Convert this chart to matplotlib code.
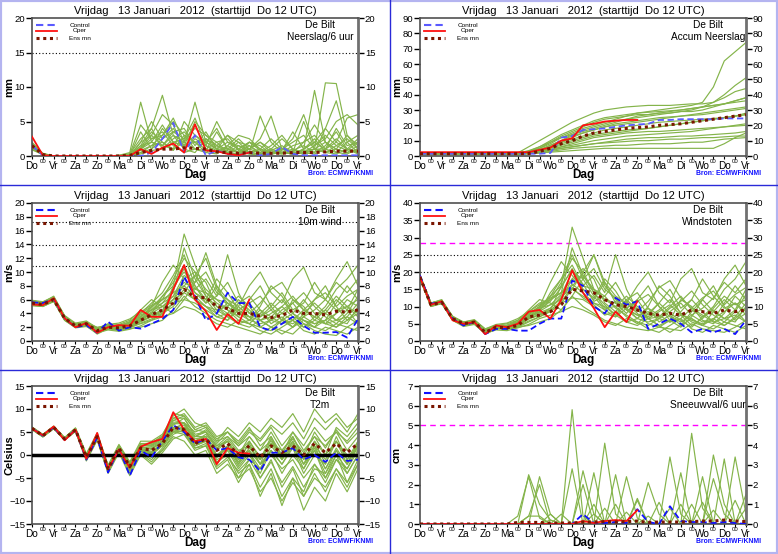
import matplotlib
matplotlib.use('Agg')
import matplotlib.pyplot as plt
from matplotlib.lines import Line2D
from matplotlib.patches import Rectangle

plt.rcParams['font.family'] = ['Liberation Sans', 'DejaVu Sans']

# tijd in stappen van 12 uur vanaf Do 12 UTC
days = ['Do', 'Vr', 'Za', 'Zo', 'Ma', 'Di', 'Wo', 'Do', 'Vr', 'Za', 'Zo', 'Ma', 'Di', 'Wo', 'Do', 'Vr']
title = 'Vrijdag   13 Januari   2012  (starttijd  Do 12 UTC)'

# ---- Neerslag/6 uur (mm)
prec_control = [1.5, 0.1, 0, 0, 0, 0, 0, 0, 0, 0, 0, 0.5, 2.5, 4.8, 0.5, 3.0, 0.1, 0.8, 0.3, 0.1, 0.5, 0.1, 0.3, 1.3, 0.3, 0.1, 0.1, 0.1, 0.1, 0.1, 0.1]
prec_oper = [2.8, 0.1, 0, 0, 0, 0, 0, 0, 0, 0, 1.0, 0.3, 1.2, 1.8, 0.5, 4.6, 0.8, 0.7, 0.3, 0.1, 0.5]
prec_ensmn = [1.5, 0.2, 0, 0, 0, 0, 0, 0, 0, 0.1, 0.5, 0.8, 1.0, 1.0, 1.2, 1.1, 1.0, 0.6, 0.5, 0.4, 0.5, 0.4, 0.4, 0.4, 0.5, 0.5, 0.5, 0.6, 0.7, 0.7, 0.7]
prec_members = [
    [1.5, 0.3, 0, 0, 0, 0, 0, 0, 0.1, 0.5, 7.8, 2.0, 1.5, 3.0, 1.0, 2.5, 1.5, 0.5, 0.8, 2.0, 0.5, 1.0, 0.3, 0.5, 1.5, 2.0, 3.0, 1.0, 2.5, 1.0, 0.5],
    [1.2, 0.2, 0, 0, 0, 0, 0, 0, 0, 0.3, 2.5, 4.0, 8.8, 3.0, 2.0, 1.0, 0.8, 3.5, 1.0, 0.5, 1.5, 0.3, 0.8, 0.5, 0.3, 1.0, 9.5, 2.0, 1.0, 0.5, 1.5],
    [1.8, 0.4, 0, 0, 0, 0, 0, 0, 0, 0.2, 1.0, 2.5, 3.0, 5.5, 2.0, 7.8, 2.0, 1.0, 0.5, 0.3, 1.0, 2.5, 5.8, 1.0, 0.5, 0.3, 1.0, 10.6, 10.5, 3.0, 1.0],
    [1.0, 0.2, 0, 0, 0, 0, 0, 0, 0, 0, 0.5, 1.5, 2.0, 1.0, 5.0, 3.0, 1.5, 5.0, 2.0, 1.0, 0.5, 0.3, 0.5, 1.0, 2.5, 6.0, 1.5, 2.5, 5.0, 6.0, 4.5],
    [2.0, 0.3, 0, 0, 0, 0, 0, 0, 0, 0.1, 3.5, 1.0, 4.0, 2.0, 1.5, 5.0, 3.0, 2.0, 2.5, 0.8, 0.3, 0.1, 0.3, 0.8, 3.5, 1.0, 2.0, 1.0, 0.5, 2.0, 3.0],
    [1.4, 0.2, 0, 0, 0, 0, 0, 0, 0, 0.2, 1.5, 4.0, 1.0, 2.5, 3.5, 2.0, 1.0, 0.5, 1.5, 3.0, 2.5, 1.0, 0.5, 0.3, 0.8, 1.5, 0.5, 4.0, 8.0, 2.0, 0.5],
    [1.6, 0.3, 0, 0, 0, 0, 0, 0, 0, 0, 2.0, 3.0, 6.0, 4.5, 1.0, 0.5, 2.5, 1.5, 0.5, 0.3, 0.5, 5.8, 2.0, 0.5, 0.3, 0.5, 0.3, 1.0, 2.0, 5.5, 6.0],
    [0.9, 0.2, 0, 0, 0, 0, 0, 0, 0, 0.1, 0.5, 1.0, 2.5, 3.5, 4.0, 1.5, 3.5, 1.0, 1.0, 2.5, 1.0, 0.5, 1.0, 2.5, 1.0, 0.5, 1.5, 3.0, 1.5, 0.8, 2.0],
    [1.3, 0.2, 0, 0, 0, 0, 0, 0, 0, 0, 1.0, 2.0, 1.5, 1.0, 2.0, 4.5, 1.0, 2.0, 0.5, 1.0, 2.0, 0.8, 0.3, 0.5, 0.3, 1.0, 2.5, 0.5, 1.0, 3.0, 1.5],
    [1.7, 0.3, 0, 0, 0, 0, 0, 0, 0.1, 0.3, 4.5, 2.5, 3.5, 1.5, 0.5, 1.0, 0.5, 0.3, 1.5, 0.5, 0.3, 1.0, 0.5, 0.3, 0.5, 5.0, 1.0, 0.5, 0.3, 1.0, 0.5],
    [1.1, 0.2, 0, 0, 0, 0, 0, 0, 0, 0, 0.3, 0.8, 1.0, 2.0, 1.5, 2.0, 2.5, 1.0, 2.0, 1.5, 0.5, 0.3, 0.8, 1.5, 0.5, 0.8, 1.0, 2.0, 0.5, 0.3, 1.0],
    [1.5, 0.2, 0, 0, 0, 0, 0, 0, 0, 0.2, 1.2, 3.5, 2.0, 0.8, 3.0, 2.0, 0.5, 1.5, 3.0, 1.0, 2.0, 1.5, 0.3, 0.5, 1.0, 0.3, 0.5, 1.5, 3.5, 1.0, 0.3],
    [1.4, 0.3, 0, 0, 0, 0, 0, 0, 0, 0.1, 2.0, 5.0, 2.5, 4.0, 1.5, 3.0, 2.0, 4.0, 1.0, 0.5, 1.0, 2.0, 1.0, 0.5, 0.3, 1.0, 2.0, 4.0, 2.0, 1.0, 2.5],
    [1.6, 0.2, 0, 0, 0, 0, 0, 0, 0, 0.2, 0.8, 1.5, 3.0, 5.0, 3.0, 1.0, 2.0, 1.0, 3.0, 2.0, 1.5, 0.5, 1.5, 3.0, 1.0, 0.5, 1.0, 0.5, 1.5, 2.5, 1.0],
    [1.2, 0.3, 0, 0, 0, 0, 0, 0, 0, 0, 1.5, 2.0, 4.5, 2.0, 2.5, 5.5, 1.5, 0.8, 0.5, 1.5, 1.0, 2.0, 0.5, 1.0, 2.0, 3.0, 1.0, 1.0, 4.0, 1.5, 2.0],
    [1.9, 0.3, 0, 0, 0, 0, 0, 0, 0, 0.1, 1.0, 3.0, 1.5, 3.5, 2.5, 4.0, 3.0, 1.5, 1.0, 0.5, 2.0, 1.0, 2.5, 1.0, 0.5, 2.0, 4.5, 2.0, 1.0, 0.5, 1.0],
]

# ---- Accum Neerslag (mm)
acc_control = [1.5, 1.5, 1.5, 1.5, 1.5, 1.5, 1.5, 1.5, 1.5, 1.5, 1.5, 1.5, 2.0, 12.0, 13.0, 17.0, 17.5, 18.0, 19.0, 20.0, 20.5, 21.0, 23.5, 23.5, 24.0, 24.0, 24.0, 24.0, 24.5, 24.5, 24.5]
acc_oper = [2.5, 2.5, 2.5, 2.5, 2.5, 2.5, 2.5, 2.5, 2.5, 2.5, 2.5, 4.0, 5.5, 10.0, 11.5, 20.0, 21.0, 22.5, 23.0, 23.5, 23.5]
acc_ensmn = [1.5, 1.5, 1.5, 1.5, 1.5, 1.5, 1.5, 1.5, 1.5, 1.5, 1.6, 3.0, 5.0, 8.0, 10.0, 13.0, 15.0, 16.0, 17.0, 18.0, 18.5, 19.0, 20.0, 20.5, 21.0, 22.0, 23.0, 24.0, 25.0, 26.0, 27.0]
acc_members = [
    [1.5, 1.5, 1.5, 1.5, 1.5, 1.5, 1.5, 1.5, 1.5, 1.6, 3, 5, 8, 12, 15, 18, 20, 22, 24, 26, 28, 29, 30, 31, 32, 33, 35, 45, 62, 68, 74],
    [1.8, 1.8, 1.8, 1.8, 1.8, 1.8, 1.8, 1.8, 1.8, 2.0, 6, 10, 14, 18, 22, 25, 28, 30, 31, 32, 32.5, 33, 33, 33, 33.5, 34, 34, 35, 40, 46, 51],
    [1.2, 1.2, 1.2, 1.2, 1.2, 1.2, 1.2, 1.2, 1.2, 1.3, 2, 4, 7, 10, 14, 17, 19, 21, 23, 24, 25, 26, 27, 28, 29, 30, 32, 35, 38, 42, 44],
    [2.0, 2.0, 2.0, 2.0, 2.0, 2.0, 2.0, 2.0, 2.0, 2.1, 3, 5, 9, 13, 16, 19, 22, 24, 25, 26, 27, 27, 28, 28, 29, 29, 30, 32, 34, 36, 38],
    [1.5, 1.5, 1.5, 1.5, 1.5, 1.5, 1.5, 1.5, 1.5, 1.5, 2, 3, 5, 8, 10, 12, 14, 15, 16, 17, 17.5, 18, 19, 20, 21, 22, 23, 24, 25, 26, 27],
    [1.0, 1.0, 1.0, 1.0, 1.0, 1.0, 1.0, 1.0, 1.0, 1.0, 1.5, 2.5, 4, 6, 8, 10, 12, 13, 14, 15, 15.5, 16, 16, 16.5, 17, 17.5, 18, 18.5, 19, 19.5, 20],
    [1.5, 1.5, 1.5, 1.5, 1.5, 1.5, 1.5, 1.5, 1.5, 1.6, 2, 3, 4, 5, 6, 7, 8, 9, 10, 11, 11.5, 12, 12, 12.5, 13, 13, 13.5, 14, 14.5, 15, 16],
    [2.0, 2.0, 2.0, 2.0, 2.0, 2.0, 2.0, 2.0, 2.0, 2.0, 2.5, 3.5, 6, 9, 12, 15, 17, 19, 20, 21, 22, 23, 24, 25, 26, 27, 28, 29, 30, 31, 32],
    [1.5, 1.5, 1.5, 1.5, 1.5, 1.5, 1.5, 1.5, 1.5, 1.5, 1.8, 2.5, 3.5, 5, 6, 7, 8, 8.5, 9, 9.5, 10, 10, 10.5, 11, 11, 11.5, 12, 12, 12.5, 13, 13],
    [1.2, 1.2, 1.2, 1.2, 1.2, 1.2, 1.2, 1.2, 1.2, 1.2, 1.5, 2, 3, 4, 5, 5.5, 6, 6.5, 7, 7, 7.5, 8, 8, 8, 8.5, 9, 9, 10, 11, 11.5, 12],
    [2.0, 2.0, 2.0, 2.0, 2.0, 2.0, 2.0, 2.0, 2.0, 2.0, 3, 6, 10, 14, 17, 20, 23, 25, 26, 27, 28, 28.5, 29, 29.5, 30, 31, 32, 33, 34, 36, 38],
    [1.3, 1.3, 1.3, 1.3, 1.3, 1.3, 1.3, 1.3, 1.3, 1.4, 1.6, 2, 2.5, 3, 3.5, 4, 4.5, 5, 5, 5, 5, 5, 5, 5, 5, 5, 5, 5, 8, 12, 15],
    [1.7, 1.7, 1.7, 1.7, 1.7, 1.7, 1.7, 1.7, 1.7, 1.7, 2.5, 4, 6, 9, 11, 13, 15, 17, 18, 19, 20, 21, 22, 22.5, 23, 23.5, 24, 24.5, 25, 26, 27],
    [1.4, 1.4, 1.4, 1.4, 1.4, 1.4, 1.4, 1.4, 1.4, 1.4, 2, 3, 5, 7, 9, 11, 13, 14, 15, 16, 17, 18, 19, 20, 21, 22, 23, 24, 25, 26, 28],
    [1.6, 1.6, 1.6, 1.6, 1.6, 1.6, 1.6, 1.6, 1.6, 1.6, 2.5, 4, 7, 10, 13, 15, 17, 19, 21, 22, 23, 24, 25, 25.5, 26, 26.5, 27, 28, 29, 30, 31],
    [1.3, 1.3, 1.3, 1.3, 1.3, 1.3, 1.3, 1.3, 1.3, 1.3, 1.8, 2.5, 4, 6, 7, 8.5, 10, 11, 12, 13, 13.5, 14, 14.5, 15, 15.5, 16, 17, 18, 19, 20, 21],
    [1.8, 1.8, 1.8, 1.8, 1.8, 1.8, 1.8, 1.8, 1.8, 1.8, 3.5, 6, 9, 12, 14, 16, 18, 20, 22, 24, 26, 27, 28, 29, 30, 31, 32, 33, 34, 35, 36],
]

# ---- 10m wind (m/s)
wind_control = [5.6, 5.5, 6.1, 3.3, 2.0, 2.3, 1.2, 2.8, 1.5, 2.0, 1.8, 2.5, 3.2, 4.5, 9.3, 6.5, 3.0, 4.0, 7.0, 5.5, 5.5, 2.0, 1.5, 2.5, 3.5, 2.2, 1.2, 1.2, 1.3, 0.5, 3.2]
wind_oper = [5.3, 5.2, 6.2, 3.3, 2.0, 2.6, 1.2, 2.0, 2.3, 2.2, 4.5, 3.5, 3.5, 7.5, 11.0, 6.0, 4.3, 1.6, 3.9, 2.5, 6.0]
wind_ensmn = [5.5, 5.3, 6.0, 3.3, 2.2, 2.5, 1.5, 2.0, 1.9, 2.2, 3.0, 3.8, 4.5, 5.5, 7.5, 6.3, 6.3, 5.0, 4.7, 4.0, 4.0, 3.6, 3.4, 3.7, 4.5, 4.0, 4.0, 3.8, 4.3, 4.2, 4.5]
wind_members = [
    [5.8, 5.6, 6.5, 3.6, 2.4, 2.8, 1.8, 2.5, 2.0, 2.8, 4.0, 5.5, 7.0, 9.5, 12.5, 8.0, 6.0, 4.0, 3.0, 5.0, 3.5, 2.0, 1.5, 3.0, 6.0, 5.0, 3.0, 2.5, 4.0, 6.0, 5.0],
    [5.2, 5.0, 5.8, 3.0, 2.0, 2.2, 1.0, 1.8, 1.5, 2.0, 2.5, 3.0, 4.0, 8.0, 15.5, 11.0, 7.0, 5.5, 4.5, 3.0, 2.5, 4.0, 5.5, 4.0, 3.0, 2.0, 3.5, 5.0, 7.5, 9.0, 11.0],
    [5.5, 5.4, 6.2, 3.4, 2.5, 2.6, 2.0, 2.2, 2.4, 3.0, 4.5, 6.0, 5.0, 4.0, 6.0, 8.5, 12.8, 8.0, 5.0, 3.5, 6.0, 8.0, 5.0, 3.0, 2.0, 3.5, 6.0, 8.0, 5.0, 3.0, 4.0],
    [5.6, 5.2, 6.0, 3.2, 2.1, 2.4, 1.4, 1.9, 1.8, 2.1, 3.0, 4.0, 6.5, 8.5, 11.0, 7.5, 9.0, 6.5, 12.5, 7.0, 4.0, 3.5, 4.5, 6.0, 4.0, 3.0, 2.5, 3.0, 5.5, 8.0, 6.0],
    [5.4, 5.3, 6.1, 3.3, 2.3, 2.5, 1.6, 2.1, 2.0, 2.5, 3.5, 5.0, 8.5, 11.0, 9.0, 7.0, 5.5, 8.0, 6.0, 5.0, 8.0, 10.0, 7.0, 5.5, 9.0, 10.7, 7.0, 6.0, 9.0, 11.5, 8.0],
    [5.7, 5.5, 6.3, 3.5, 2.2, 2.6, 1.7, 2.0, 1.6, 1.8, 2.0, 2.5, 3.0, 4.5, 6.5, 5.0, 4.0, 3.0, 2.5, 2.0, 1.5, 1.0, 2.0, 1.5, 1.0, 2.5, 1.5, 1.0, 0.8, 2.0, 3.0],
    [5.3, 5.1, 5.9, 3.1, 2.0, 2.3, 1.3, 1.7, 2.2, 2.6, 3.8, 4.5, 5.0, 6.0, 9.0, 10.0, 8.5, 5.0, 4.0, 6.0, 4.5, 3.0, 3.5, 5.0, 6.5, 4.5, 3.5, 4.5, 3.0, 2.5, 5.0],
    [5.9, 5.7, 6.4, 3.7, 2.6, 2.9, 1.9, 2.4, 2.6, 3.2, 4.2, 5.2, 6.0, 7.0, 13.5, 9.0, 6.5, 5.0, 3.5, 2.5, 3.0, 5.0, 8.0, 6.5, 4.0, 2.5, 2.0, 4.0, 6.0, 4.5, 7.5],
    [5.1, 5.0, 5.7, 3.0, 1.9, 2.1, 1.2, 1.6, 1.4, 1.7, 2.2, 3.0, 3.5, 4.0, 5.0, 4.5, 3.5, 2.5, 2.0, 3.0, 2.5, 1.5, 1.0, 2.0, 3.0, 1.5, 1.0, 2.0, 1.5, 1.0, 2.0],
    [5.5, 5.5, 6.0, 3.3, 2.2, 2.5, 1.5, 2.0, 1.9, 2.3, 3.2, 4.2, 5.5, 7.5, 10.5, 7.0, 6.0, 9.0, 7.0, 4.5, 3.0, 2.5, 3.0, 4.5, 5.5, 7.0, 5.0, 3.5, 2.5, 4.0, 6.5],
    [5.6, 5.4, 6.1, 3.4, 2.3, 2.5, 1.6, 2.2, 2.1, 2.4, 3.3, 3.8, 4.5, 6.0, 8.0, 6.5, 5.0, 4.0, 5.5, 4.0, 3.0, 4.5, 2.5, 3.5, 2.0, 4.0, 5.5, 4.0, 3.0, 3.5, 2.5],
    [5.4, 5.2, 5.9, 3.2, 2.1, 2.4, 1.4, 1.9, 1.7, 2.0, 2.8, 3.5, 4.0, 5.0, 7.0, 9.5, 12.0, 7.5, 5.5, 4.5, 5.5, 3.5, 5.0, 7.0, 4.5, 5.5, 8.5, 6.0, 4.5, 5.0, 4.0],
    [5.8, 5.6, 6.2, 3.5, 2.4, 2.7, 1.8, 2.3, 2.3, 2.7, 3.6, 4.5, 5.5, 6.5, 8.5, 7.5, 7.0, 6.0, 4.5, 3.5, 2.5, 2.0, 3.0, 2.5, 3.5, 3.0, 2.0, 3.0, 4.0, 5.0, 3.5],
    [5.3, 5.1, 5.8, 3.1, 2.0, 2.3, 1.3, 1.8, 1.6, 2.1, 3.0, 3.5, 4.5, 6.0, 7.0, 6.0, 5.0, 4.5, 3.5, 5.5, 6.5, 4.5, 3.5, 2.5, 3.0, 4.5, 3.5, 2.5, 2.0, 3.0, 4.5],
    [5.5, 5.3, 6.0, 3.3, 2.2, 2.5, 1.5, 2.1, 2.2, 2.8, 4.0, 5.0, 6.0, 7.0, 8.0, 9.5, 7.5, 6.0, 5.5, 4.5, 3.5, 3.0, 4.0, 5.0, 3.5, 2.0, 3.0, 4.5, 6.5, 5.0, 6.0],
    [5.7, 5.4, 6.2, 3.4, 2.3, 2.6, 1.6, 2.0, 2.0, 2.3, 3.2, 4.5, 6.0, 9.0, 12.0, 10.0, 6.5, 4.5, 5.0, 6.5, 5.0, 3.0, 2.0, 3.0, 4.0, 6.0, 4.0, 2.5, 3.0, 4.5, 2.5],
    [5.4, 5.2, 5.9, 3.2, 2.1, 2.4, 1.4, 1.9, 1.7, 1.9, 2.6, 3.2, 3.8, 5.5, 6.0, 5.5, 4.5, 3.5, 3.0, 4.5, 5.5, 6.5, 4.5, 3.0, 2.5, 3.5, 4.5, 6.0, 8.5, 7.0, 9.0],
    [5.6, 5.5, 6.1, 3.4, 2.2, 2.5, 1.5, 2.0, 1.8, 2.2, 3.0, 4.0, 5.0, 6.5, 9.5, 8.5, 10.0, 7.0, 6.0, 4.0, 3.5, 4.0, 3.0, 4.0, 5.5, 3.5, 2.5, 3.0, 2.0, 3.5, 5.5],
    [5.3, 5.2, 5.8, 3.2, 2.1, 2.3, 1.4, 1.8, 1.9, 2.4, 3.4, 4.8, 6.5, 8.0, 10.0, 8.0, 5.5, 6.5, 8.5, 5.5, 4.0, 5.5, 7.5, 8.5, 6.0, 4.5, 6.0, 7.0, 5.0, 6.5, 7.5],
    [5.8, 5.6, 6.3, 3.6, 2.4, 2.7, 1.7, 2.2, 2.0, 2.2, 2.9, 3.6, 4.2, 5.5, 7.5, 6.0, 5.0, 3.5, 4.0, 2.5, 2.0, 3.0, 2.0, 1.0, 2.0, 3.0, 2.0, 1.5, 2.5, 2.0, 1.5],
]

# ---- Windstoten (m/s)
gust_control = [19, 10.8, 11.3, 6.5, 4.5, 5.5, 2.0, 3.5, 3.5, 3.0, 3.0, 5.0, 6.5, 6.5, 17.5, 16, 10, 8, 12.5, 10.5, 11.5, 3.5, 5.0, 6.5, 5.0, 2.5, 3.5, 2.5, 3.5, 2.0, 6.0]
gust_oper = [18.5, 10.5, 11.5, 6.0, 5.0, 5.5, 2.0, 4.5, 4.0, 5.0, 8.5, 9.0, 6.5, 12, 20.5, 14, 9.5, 4, 8.5, 5.5, 11.5]
gust_ensmn = [18.5, 10.5, 11.2, 6.5, 5.0, 5.5, 2.5, 4.0, 3.8, 4.5, 7.0, 7.5, 8.5, 10.5, 15.0, 14.5, 14.0, 12.0, 10.5, 10.0, 9.0, 8.0, 7.5, 8.0, 7.5, 9.0, 8.5, 8.0, 9.0, 8.5, 9.0]
gust_members = [
    [19, 11, 12, 7, 5.5, 6, 3, 4.5, 4, 5.5, 8, 10, 13, 18, 25, 18, 13, 9, 7, 11, 8, 5, 4, 6, 12, 10, 6, 5, 8, 13, 10],
    [18, 10, 11, 6, 4.5, 5, 2, 3.5, 3.5, 4, 5.5, 7, 9, 16, 33, 24, 15, 12, 10, 7, 5, 8, 11, 8, 6, 4, 7, 10, 15, 18, 23],
    [19, 11, 11.5, 7, 5, 6, 3.5, 4.5, 5, 6, 9, 12, 11, 9, 13, 18, 25, 17, 11, 8, 12, 16, 10, 6, 4, 7, 12, 16, 10, 6, 8],
    [18.5, 10.5, 11, 6.5, 4.8, 5.5, 2.8, 4, 3.8, 4.5, 6.5, 8.5, 14, 18, 22, 16, 19, 14, 25, 15, 9, 7, 9, 12, 8, 6, 5, 6, 11, 16, 12],
    [18.5, 10.5, 11.2, 6.5, 5, 5.5, 3, 4.2, 4.2, 5, 7.5, 10, 17, 23, 19, 15, 12, 17, 13, 11, 16, 20, 14, 11, 18, 21, 14, 12, 18, 22, 16],
    [19, 11, 11.8, 7, 5.2, 5.8, 3.2, 4.3, 3.5, 4, 4.5, 5.5, 6.5, 9, 13, 10, 8, 6, 5, 4, 3.5, 3, 4, 3.5, 3, 5, 3.5, 3, 2.5, 4, 6],
    [18, 10.2, 11, 6.2, 4.6, 5.2, 2.4, 3.6, 4.5, 5.5, 8, 9.5, 10.5, 12, 18, 21, 18, 11, 8.5, 12, 9, 6.5, 7, 10, 13, 9, 7, 9, 6.5, 5.5, 10],
    [19, 11, 11.8, 7.2, 5.5, 6.2, 3.5, 4.8, 5.2, 6.5, 8.5, 11, 12, 14, 27, 19, 14, 10.5, 7.5, 5.5, 6.5, 10, 16, 13, 8, 5.5, 4.5, 8.5, 12, 9, 15],
    [18, 10, 10.8, 6, 4.2, 4.8, 2.2, 3.2, 3, 3.8, 4.8, 6.5, 7.5, 8.5, 10, 9, 7.5, 5.5, 4.5, 6.5, 5.5, 3.5, 2.5, 4.5, 6.5, 3.5, 2.5, 4.5, 3.5, 2.5, 4.5],
    [18.5, 10.5, 11.3, 6.6, 5, 5.5, 2.8, 4, 3.9, 4.8, 7, 9, 11.5, 15.5, 21, 15, 12.5, 18, 14.5, 9.5, 6.5, 5.5, 6.5, 9.5, 11.5, 14.5, 10.5, 7.5, 5.5, 8.5, 13.5],
    [18.8, 10.8, 11.5, 6.8, 5.2, 5.6, 3, 4.4, 4.3, 5, 7.2, 8.2, 9.5, 12.5, 16.5, 14, 11, 9, 11.5, 9, 6.5, 9.5, 5.5, 7.5, 4.5, 8.5, 12, 8.5, 6.5, 7.5, 5.5],
    [18.2, 10.3, 11, 6.4, 4.8, 5.3, 2.6, 3.8, 3.6, 4.4, 6.4, 7.6, 8.5, 11, 15, 20, 25, 16, 12, 9.5, 12, 7.5, 11, 15, 9.5, 12, 18, 13, 9.5, 11, 8.5],
    [19, 11, 11.6, 7, 5.3, 5.8, 3.2, 4.5, 4.6, 5.6, 7.8, 9.8, 12, 14, 18, 16, 15, 13, 9.5, 7.5, 5.5, 4.5, 6.5, 5.5, 7.5, 6.5, 4.5, 6.5, 8.5, 11, 7.5],
    [18.3, 10.3, 10.9, 6.3, 4.5, 5, 2.4, 3.7, 3.4, 4.2, 6.5, 7.5, 9.5, 13, 15, 13, 11, 10, 7.5, 12, 14, 9.5, 7.5, 5.5, 6.5, 9.5, 7.5, 5.5, 4.5, 6.5, 9.5],
    [18.5, 10.5, 11.2, 6.5, 5, 5.5, 2.8, 4.2, 4.5, 6, 8.5, 10.5, 12.5, 14, 16, 19, 15, 12, 11, 9.5, 7.5, 6.5, 8.5, 10.5, 7.5, 4.5, 6.5, 9.5, 13, 10.5, 12],
    [19, 10.8, 11.6, 6.8, 5.2, 5.7, 3, 4.2, 4, 4.6, 6.8, 9, 12, 17, 24, 20, 14, 9.5, 10, 13, 10, 6.5, 4.5, 6, 8.5, 12, 8.5, 5.5, 6.5, 9, 5.5],
    [18.3, 10.4, 11, 6.4, 4.7, 5.3, 2.6, 3.9, 3.7, 4.2, 5.8, 7, 8.5, 11, 12.5, 12, 10, 8, 7, 9.5, 11.5, 13.5, 10, 7, 5.5, 7.5, 9.5, 12.5, 17, 14, 18],
    [18.7, 10.7, 11.4, 6.7, 5.1, 5.6, 2.9, 4.1, 3.9, 4.7, 6.8, 8.6, 10.5, 13.5, 20, 18, 21, 15, 12.5, 9, 7.5, 8.5, 6.5, 8.5, 11, 7.5, 5.5, 6.5, 4.5, 7, 11],
    [18.2, 10.2, 10.9, 6.2, 4.6, 5.2, 2.5, 3.7, 3.8, 5, 7.2, 9.5, 13, 16, 20.5, 16.5, 11.5, 13, 17, 11.5, 8.5, 11.5, 15.5, 17.5, 12.5, 9.5, 12.5, 14.5, 10.5, 13.5, 15.5],
    [19, 11, 11.7, 7, 5.4, 5.9, 3.2, 4.4, 4.2, 4.8, 6.4, 7.8, 9, 11.5, 15.5, 12.5, 10.5, 7.5, 8.5, 5.5, 4.5, 6.5, 4.5, 2.5, 4.5, 6.5, 4.5, 3.5, 5.5, 4.5, 3.5],
]

# ---- T2m (Celsius)
t2m_control = [5.8, 4.2, 6.0, 3.3, 5.5, -1.0, 3.8, -3.8, 1.5, -4.5, 1.0, -0.5, 3.0, 6.5, 5.0, 2.5, 3.5, 1.0, 1.5, -0.5, -1.0, -3.5, 0.5, 0.5, 1.5, -1.0, 0.0, -1.5, 0.5, -1.3, -1.0]
t2m_oper = [5.7, 4.3, 6.2, 3.2, 5.5, -0.8, 4.8, -3.0, 1.2, -2.8, 1.8, 2.8, 3.5, 9.3, 5.5, 3.0, 3.5, -2.0, 1.5, 0.5, 0.3]
t2m_ensmn = [5.8, 4.2, 6.0, 3.5, 5.5, -0.5, 4.0, -3.0, 1.5, -2.5, 1.5, 1.0, 2.5, 6.0, 5.5, 2.5, 3.5, 1.0, 2.5, 0.0, 2.0, -0.5, 2.0, 0.5, 2.0, 0.0, 2.5, 0.5, 2.5, 0.5, 2.5]
t2m_members = [
    [6.0, 4.4, 6.2, 3.7, 5.8, 0, 4.5, -2.5, 2, -2, 2.5, 2.5, 4, 8, 9, 6, 7, 4, 5, 2, 4, 1, 3, 0, 3, -1, 2, -3, 1, -4, 0],
    [5.6, 4.0, 5.8, 3.3, 5.2, -1, 3.5, -3.5, 1, -3.5, 0.5, -1, 1.5, 5, 6, 4, 5, 2, 3, -2, 1, -5, -1, -7, -3, -9, -4, -8, -3, -7, -2],
    [5.9, 4.3, 6.1, 3.6, 5.6, -0.3, 4.2, -2.8, 1.8, -2, 2, 2, 3.5, 7, 7, 5, 6, 3, 6, 4, 7, 5, 8, 6, 9, 5, 10, 7, 9, 6, 8],
    [5.7, 4.1, 5.9, 3.4, 5.4, -0.8, 3.8, -3.2, 1.3, -3, 1, 0, 2, 5.5, 5, 2, 3, -1, 0, -4, -2, -7, -3, -9, -5, -12, -7, -10, -4, -8, -3],
    [5.8, 4.2, 6.0, 3.5, 5.5, -0.5, 4.0, -3.0, 1.5, -2.5, 1.5, 1.5, 3, 6.5, 8, 4, 4, 0, 2, -2, 3, -1, 4, 0, 5, 2, 6, 3, 5, 1, 4],
    [6.1, 4.5, 6.3, 3.8, 5.9, 0.3, 4.8, -2.2, 2.3, -1.5, 3, 3, 4.5, 8.5, 10, 7, 6, 3, 4, 1, 2, -2, 1, -4, 0, -3, 2, -1, 3, -2, 2],
    [5.5, 3.9, 5.7, 3.2, 5.1, -1.3, 3.2, -4, 0.5, -4.5, 0, -2, 0.5, 3.5, 4.5, 1, 2, -3, -1, -6, -2, -9, -4, -11, -5, -8, -2, -5, 0, -3, 1],
    [5.9, 4.3, 6.0, 3.6, 5.6, -0.2, 4.3, -2.7, 1.7, -2.2, 1.8, 1.2, 2.8, 6, 6.5, 3, 4.5, 1.5, 3.5, 0.5, 3, -0.5, 2.5, 1, 3.5, 0.5, 4, 2, 5, 3, 6],
    [5.7, 4.1, 5.9, 3.4, 5.4, -0.7, 3.7, -3.3, 1.2, -2.8, 1.2, 0.5, 2, 5, 4.5, 1.5, 2, -2, 1, -3, 0, -4, 1, -2, 2, -3, 1, -4, 0, -6, -1],
    [5.8, 4.2, 6.1, 3.5, 5.5, -0.4, 4.1, -2.9, 1.6, -2.4, 1.6, 1.8, 3.2, 7.5, 8.5, 5.5, 5, 2, 4, 2, 5, 3, 6, 2, 5, 1, 4, 0, 3, -1, 2],
    [5.6, 4.0, 5.8, 3.3, 5.3, -0.9, 3.6, -3.4, 1.1, -3.2, 0.8, -0.5, 1, 4, 3, 0, 1, -4, -2, -5, -1, -3, 2, -1, 3, -2, 1, -5, -1, -4, 0],
    [6.0, 4.4, 6.2, 3.7, 5.7, -0.1, 4.4, -2.6, 1.9, -1.8, 2.2, 2.2, 3.8, 7.5, 7, 4, 5.5, 2.5, 5, 3, 6, 2, 4, -1, 2, -2, 3, 0, 6, 4, 7],
    [5.8, 4.2, 6.0, 3.5, 5.5, -0.6, 3.9, -3.1, 1.4, -2.6, 1.4, 0.8, 2.4, 6, 5.5, 2.5, 3, 0, 1.5, -1, 1, -2, 0, -3, -1, -5, -2, -6, -1, -3, 2],
    [5.9, 4.3, 6.1, 3.6, 5.6, -0.4, 4.2, -2.9, 1.6, -2.3, 1.7, 1.4, 2.9, 6.8, 6.8, 3.5, 4, 1, 3, 0, 4, 1, 5, 1, 4, -1, 3, -2, 4, -1, 3],
    [5.7, 4.1, 5.9, 3.4, 5.4, -0.6, 3.8, -3.3, 1.2, -3.5, 0.8, 0.5, 2.5, 5.5, 7, 3, 4, -0.5, 1.5, -2.5, 0.5, -3, 1, -2, 1.5, -4, 0, -2, 3, 0, 1],
    [5.9, 4.3, 6.1, 3.6, 5.7, -0.2, 4.4, -2.6, 1.8, -2, 2, 2.2, 3.8, 8, 8, 4.5, 5, 1.5, 3, -1, 2.5, -2, 3.5, -1, 4, -0.5, 5, 1.5, 5.5, 2.5, 5],
    [5.6, 4.0, 5.8, 3.3, 5.3, -1.1, 3.4, -3.7, 0.8, -4, 0.3, -1.5, 1, 4.5, 5.5, 2, 3, -1.5, 0, -5, -3, -8, -5, -10, -6, -9, -5, -7, -3, -6, -2],
    [6.0, 4.4, 6.2, 3.7, 5.8, 0.1, 4.6, -2.4, 2.1, -1.7, 2.4, 2.6, 4.2, 9, 8.5, 5.5, 6.5, 3.5, 5, 2.5, 5.5, 3.5, 6.5, 4.5, 7, 3.5, 8, 5.5, 8, 5, 9],
    [5.8, 4.2, 6.0, 3.5, 5.5, -0.5, 4.0, -3.0, 1.5, -2.7, 1.3, 0.2, 2.2, 5.8, 6, 2.5, 3, -0.5, 2, -1.5, 1.5, -1, 2.5, -0.5, 2.5, -2, 1.5, -3, 1.5, -2, 2.5],
    [5.7, 4.1, 5.9, 3.4, 5.4, -0.7, 3.8, -3.2, 1.3, -3, 1.1, 0.6, 2.1, 5.2, 5, 1.5, 2.5, -2.5, -0.5, -3.5, -1, -5, -1.5, -6, -2.5, -7, -3, -4, 1, -2, 3],
]

# ---- Sneeuwval/6 uur (cm)
snow_control = [0, 0, 0, 0, 0, 0, 0, 0, 0, 0, 0, 0, 0, 0, 0, 0.5, 0.05, 0.05, 0.1, 0.05, 0.75, 0.1, 0.0, 0.9, 0.15, 0.1, 0.1, 0.05, 0.1, 0.05, 0.0]
snow_oper = [0, 0, 0, 0, 0, 0, 0, 0, 0, 0, 0, 0, 0, 0, 0, 0.15, 0.05, 0.15, 0.2, 0.15, 0.7]
snow_ensmn = [0, 0, 0, 0, 0, 0, 0, 0, 0, 0.08, 0.08, 0.08, 0.03, 0.05, 0.05, 0.1, 0.1, 0.12, 0.1, 0.12, 0.15, 0.08, 0.1, 0.1, 0.1, 0.12, 0.15, 0.15, 0.2, 0.15, 0.12]
snow_members = [
    [0, 0, 0, 0, 0, 0, 0, 0, 0, 0.4, 2.4, 0.3, 0, 0, 0, 0, 0, 0, 0, 0, 0, 0, 0, 3.4, 0.5, 0, 0, 0, 0, 0, 0],
    [0, 0, 0, 0, 0, 0, 0, 0, 0, 0, 2.5, 1.0, 0.2, 0, 0, 0, 0, 4.1, 0.5, 0, 0, 0, 0, 0, 0, 4.6, 0.8, 0, 0, 0, 0],
    [0, 0, 0, 0, 0, 0, 0, 0, 0, 0, 0, 2.4, 0.5, 0, 5.8, 0.4, 0, 0, 0, 0, 0, 0, 0, 0, 0, 0, 0, 3.5, 1.0, 0, 0],
    [0, 0, 0, 0, 0, 0, 0, 0, 0, 0, 0.4, 2.0, 0, 0.5, 0, 0, 2.6, 0, 0, 2.4, 0.3, 0, 0, 0, 0, 0, 0, 0, 3.3, 0, 0],
    [0, 0, 0, 0, 0, 0, 0, 0, 0, 0, 0, 0, 0, 0, 0, 2.7, 0.5, 0, 0, 0, 0, 2.1, 0.5, 0, 0, 0, 0, 0, 0, 3.4, 0.5],
    [0, 0, 0, 0, 0, 0, 0, 0, 0, 0, 0, 0, 0, 0, 0, 2.0, 0, 0, 2.5, 0, 1.3, 0, 0, 0, 2.6, 0, 2.4, 0, 0, 0, 1.5],
    [0, 0, 0, 0, 0, 0, 0, 0, 0, 0, 0, 0, 0.5, 0, 0, 0, 1.0, 0, 1.0, 0, 0, 0, 1.1, 0, 0, 1.0, 0, 2.3, 0.5, 0, 0],
    [0, 0, 0, 0, 0, 0, 0, 0, 0, 0, 0.4, 0.4, 0, 0, 2.8, 0, 0, 0.8, 0, 0, 1.2, 0, 0, 0.8, 0, 0, 1.1, 0, 0, 1.2, 0],
    [0, 0, 0, 0, 0, 0, 0, 0, 0, 0, 0, 0, 0.2, 0, 0, 0, 0.5, 0, 0, 0.6, 0, 0.4, 0, 0, 1.0, 0, 0, 0.7, 0, 0, 0.8],
]

T = [i * 0.5 for i in range(31)]

fig = plt.figure(figsize=(7.78, 5.54), dpi=100)
W, H = 778.0, 554.0

CTRL_DASH = (0, (3.5, 2))
ENS_DOT = (0, (1, 1.2))


def panel(px, py, members, control, oper, ensmn, ymin, ymax, ystep, ylabel, name,
          dotted=(), magenta=None, zero_line=False, light_ctrl=False):
    ax = fig.add_axes([px / W, 1 - (py + 138) / H, 326 / W, 138 / H])
    for m in members:
        ax.plot(T[:len(m)], m, color='#84b44a', lw=0.85, zorder=2)
    for y in dotted:
        ax.axhline(y, color='black', ls=(0, (1, 2)), lw=0.8, zorder=1)
    if magenta is not None:
        ax.axhline(magenta, color='#ff00ff', ls=(0, (4, 3)), lw=1.0, zorder=1)
    if zero_line:
        ax.axhline(0, color='black', lw=2.5, zorder=3)
    cc = '#5a5aff' if light_ctrl else '#1010ff'
    ax.plot(T[:len(control)], control, color=cc, ls=CTRL_DASH, lw=1.3, zorder=4)
    ax.plot(T[:len(oper)], oper, color='#ff1010', lw=1.3, zorder=5)
    ax.plot(T[:len(ensmn)], ensmn, color='#7a1500', ls=ENS_DOT, lw=2.2, zorder=6)

    # legenda linksboven
    rows = [(0.949, 'Control', cc, CTRL_DASH, 1.5),
            (0.906, 'Oper', '#ff1010', '-', 1.3),
            (0.855, 'Ens mn', '#7a1500', ENS_DOT, 2.2)]
    for yy, lab, col, ls, lw in rows:
        ax.plot([0.012, 0.078], [yy, yy], transform=ax.transAxes, color=col, ls=ls,
                lw=lw, zorder=8)
        ax.text(0.147, yy, lab, transform=ax.transAxes, ha='center', va='center',
                fontsize=4.6, zorder=8)

    ax.set_xlim(0, 15)
    ax.set_ylim(ymin, ymax)
    ax.set_yticks(list(range(ymin, ymax + 1, ystep)))
    ax.set_xticks(range(16))
    ax.set_xticklabels(days, fontsize=7.2)
    ax.set_xticks([k + 0.5 for k in range(15)], minor=True)
    ax.set_xticklabels(['00'] * 15, minor=True, fontsize=4.3)
    ax.tick_params(axis='x', which='major', length=2.5, pad=1.0, width=0.8)
    ax.tick_params(axis='x', which='minor', length=2.5, pad=0, width=0.8)
    ax.tick_params(axis='y', length=4, width=1, labelsize=6.8, pad=1,
                   right=True, labelright=True)
    for s in ['left', 'top', 'bottom']:
        ax.spines[s].set_color('#505050')
        ax.spines[s].set_linewidth(1.2)
    ax.spines['right'].set_color('#707070')
    ax.spines['right'].set_linewidth(2)

    ax.set_title(title, fontsize=8, pad=3)
    ax.set_ylabel(ylabel, fontsize=8, fontweight='bold')
    ax.yaxis.set_label_coords(-0.055, 0.5)
    ax.text(0.5, -0.096, 'Dag', transform=ax.transAxes, ha='center', va='top',
            fontsize=8.5, fontweight='bold')
    ax.text(1.045, -0.13, 'Bron: ECMWF/KNMI', transform=ax.transAxes, ha='right',
            va='center', fontsize=4.9, fontweight='bold', color='#1010ff')
    ax.text(0.883, 0.985, 'De Bilt\n' + name, transform=ax.transAxes, ha='center',
            va='top', fontsize=7.3, linespacing=1.25, zorder=7)
    return ax


panel(32, 18, prec_members, prec_control, prec_oper, prec_ensmn, 0, 20, 5, 'mm',
      'Neerslag/6 uur', dotted=[15], light_ctrl=True)
panel(420, 18, acc_members, acc_control, acc_oper, acc_ensmn, 0, 90, 10, 'mm',
      'Accum Neerslag', light_ctrl=True)
panel(32, 203, wind_members, wind_control, wind_oper, wind_ensmn, 0, 20, 2, 'm/s',
      '10m wind', dotted=[10.8, 13.9, 17.2])
panel(420, 203, gust_members, gust_control, gust_oper, gust_ensmn, 0, 40, 5, 'm/s',
      'Windstoten', dotted=[20, 25], magenta=28.5)
panel(32, 386, t2m_members, t2m_control, t2m_oper, t2m_ensmn, -15, 15, 5, 'Celsius',
      'T2m', zero_line=True)
panel(420, 386, snow_members, snow_control, snow_oper, snow_ensmn, 0, 7, 1, 'cm',
      'Sneeuwval/6 uur', magenta=5)

# scheidingslijnen tussen de panelen
fig.add_artist(Line2D([389.5 / W, 389.5 / W], [0, 1], color='#2a2ad8', lw=1))
for yy in [184.5, 369.5]:
    fig.add_artist(Line2D([0, 1], [1 - yy / H, 1 - yy / H], color='#2a2ad8', lw=1))
fig.add_artist(Rectangle((0, 0), 1, 1, transform=fig.transFigure, fill=False,
                         edgecolor='#b4b4f0', lw=3))

fig.savefig('out.png', dpi=100)
